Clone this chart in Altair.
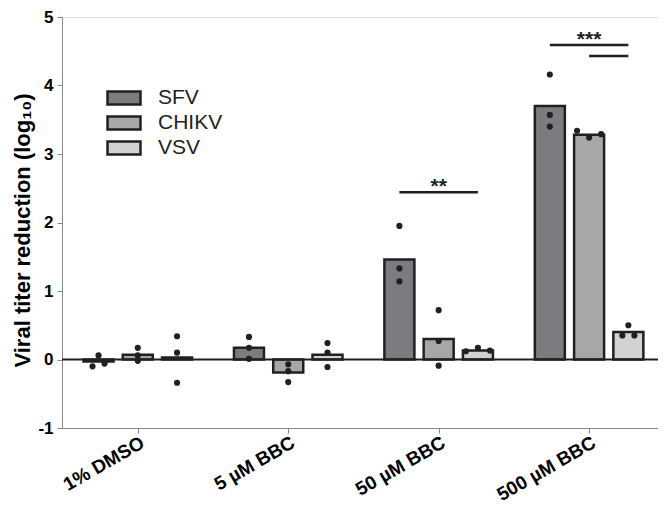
import altair as alt
import pandas as pd

# ---------------- data ----------------
groups = ["1% DMSO", "5 µM BBC", "50 µM BBC", "500 µM BBC"]
series = ["SFV", "CHIKV", "VSV"]
colors = ["#7b7c7f", "#a6a7a9", "#d1d2d3"]

# bar heights (means) per series, in group order
sfv_mean = [-0.03, 0.17, 1.46, 3.70]
chikv_mean = [0.07, -0.19, 0.30, 3.28]
vsv_mean = [0.03, 0.07, 0.13, 0.40]

# replicate values per series, per group
sfv_pts = [[0.06, -0.10, -0.06], [0.33, 0.17, 0.01], [1.95, 1.33, 1.14], [4.16, 3.57, 3.40]]
chikv_pts = [[0.17, 0.06, -0.02], [-0.07, -0.33, -0.17], [0.72, 0.27, -0.09], [3.34, 3.24, 3.29]]
vsv_pts = [[0.34, 0.10, -0.34], [0.24, 0.10, -0.11], [0.12, 0.17, 0.13], [0.50, 0.35, 0.35]]

# significance comparisons: (group index, from series, to series, height, label)
comparisons = [
    (2, "SFV", "VSV", 2.44, "**"),
    (3, "SFV", "VSV", 4.59, "***"),
    (3, "CHIKV", "VSV", 4.43, ""),
]

# ---------------- layout helpers ----------------
OFFSET = 0.261  # spacing between bars within a group, in group units
SPREAD = 0.08   # horizontal spread for overlapping replicate dots

def bar_x(gi, s):
    return gi + (series.index(s) - 1) * OFFSET

means = {"SFV": sfv_mean, "CHIKV": chikv_mean, "VSV": vsv_mean}
points = {"SFV": sfv_pts, "CHIKV": chikv_pts, "VSV": vsv_pts}

bar_rows = []
pt_rows = []
for s in series:
    for gi, g in enumerate(groups):
        bx = bar_x(gi, s)
        bar_rows.append({"group": g, "series": s, "value": means[s][gi], "x": bx})
        vals = points[s][gi]
        # cluster close values so that overlapping dots are placed side by side
        order = sorted(range(len(vals)), key=lambda i: vals[i])
        clusters = [[order[0]]]
        for i in order[1:]:
            if abs(vals[i] - vals[clusters[-1][-1]]) < 0.05:
                clusters[-1].append(i)
            else:
                clusters.append([i])
        for cl in clusters:
            cl_sorted = sorted(cl)
            n = len(cl_sorted)
            for k, i in enumerate(cl_sorted):
                pt_rows.append({"series": s, "value": vals[i],
                                "x": bx + (k - (n - 1) / 2) * SPREAD})

bars_df = pd.DataFrame(bar_rows)
pts_df = pd.DataFrame(pt_rows)
sig_df = pd.DataFrame([
    {"x": bar_x(gi, a), "x2": bar_x(gi, b), "y": h, "label": lab,
     "xm": (bar_x(gi, a) + bar_x(gi, b)) / 2}
    for gi, a, b, h, lab in comparisons
])
sig_text_df = sig_df[sig_df["label"] != ""]
zero_df = pd.DataFrame({"y": [0]})

FONT = "Liberation Sans"
INK = "#231f20"

label_expr = "[" + ",".join("'" + g + "'" for g in groups) + "][datum.value]"

x_scale = alt.Scale(domain=[-0.4706, 3.4248], nice=False, zero=False)
y_scale = alt.Scale(domain=[-1, 5], nice=False)

x_enc = alt.X("x:Q", scale=x_scale, axis=alt.Axis(
    values=[0, 1, 2, 3], labelExpr=label_expr, title=None, labelAngle=-30,
    labelAlign="right", labelBaseline="top", labelFontSize=19,
    labelFontWeight="bold", labelPadding=0, tickSize=5, grid=False))
y_enc = alt.Y("value:Q", scale=y_scale, axis=alt.Axis(
    values=[-1, 0, 1, 2, 3, 4, 5], labelExpr="'' + datum.value",
    title="Viral titer reduction (log₁₀)", titleFontSize=22,
    titleFontWeight="bold", titlePadding=3, titleY=213, labelFontSize=17,
    labelFontWeight="bold", labelPadding=4, tickSize=5, grid=False))

# wide rectangular legend swatch (custom symbol path, scaled by sqrt(size)/2)
SWATCH = "M-1.6,-0.64H1.6V0.64H-1.6Z"

bars = alt.Chart(bars_df).mark_bar(width=30, stroke=INK, strokeWidth=2.5).encode(
    x=x_enc,
    y=y_enc,
    color=alt.Color("series:N", scale=alt.Scale(domain=series, range=colors),
                    legend=alt.Legend(title=None, orient="none", legendX=50, legendY=69,
                                      symbolType=SWATCH, symbolSize=425,
                                      symbolStrokeColor=INK, symbolStrokeWidth=2.5,
                                      symbolOpacity=1, labelFontSize=21, labelFont=FONT,
                                      labelColor=INK, labelOffset=22, rowPadding=1)),
)

zero = alt.Chart(zero_df).mark_rule(color=INK, strokeWidth=2).encode(y=alt.Y("y:Q", scale=y_scale))

dots = alt.Chart(pts_df).mark_circle(size=38, color=INK, opacity=1).encode(
    x=alt.X("x:Q", scale=x_scale), y=alt.Y("value:Q", scale=y_scale))

sig_lines = alt.Chart(sig_df).mark_rule(color=INK, strokeWidth=2.5).encode(
    x=alt.X("x:Q", scale=x_scale), x2="x2:Q", y=alt.Y("y:Q", scale=y_scale))

sig_text = alt.Chart(sig_text_df).mark_text(
    font=FONT, fontSize=21, fontWeight="bold", color=INK, baseline="alphabetic", dy=1
).encode(x=alt.X("xm:Q", scale=x_scale), y=alt.Y("y:Q", scale=y_scale), text="label:N")

chart = alt.layer(bars, zero, dots, sig_lines, sig_text).properties(
    width=596, height=411,
    autosize=alt.AutoSizeParams(type="none"),
    padding={"left": 54, "top": 9, "right": 0, "bottom": 79},
).configure_view(stroke=None).configure_axis(
    domainColor=INK, domainWidth=2.5, tickColor=INK, tickWidth=2,
    labelColor=INK, titleColor=INK, labelFont=FONT, titleFont=FONT,
).configure(background="white")

chart.save("out.html", embed_options={"renderer": "svg", "actions": False})
